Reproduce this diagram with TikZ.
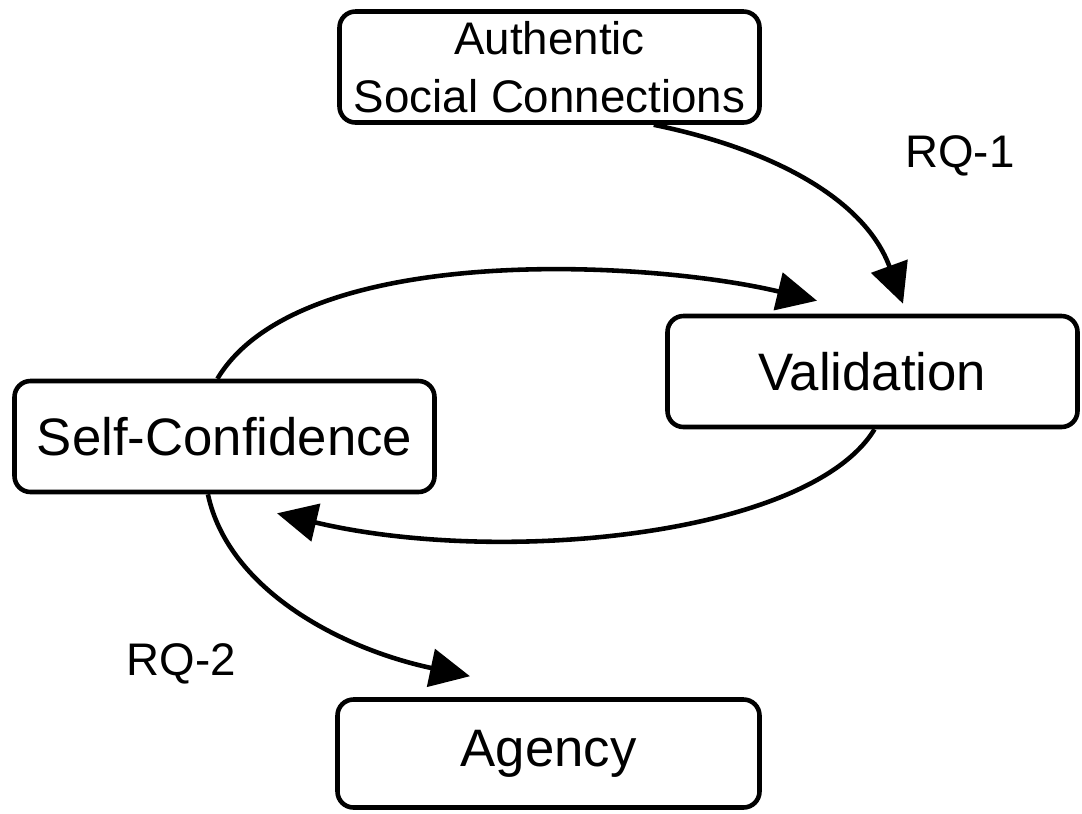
\documentclass[tikz,border=0pt]{standalone}
\usepackage{fontspec}
\setmainfont{Liberation Sans}
\usetikzlibrary{arrows.meta}

\tikzset{
  box/.style={draw, line width=1.3pt, rounded corners=0.16cm,
    minimum width=4.2cm, minimum height=1.11cm, inner sep=0pt,
    align=center, font=\fontsize{15}{18}\selectfont},
  link/.style={line width=1.3pt, -{Triangle[length=0.4cm,width=0.38cm]}},
  rq/.style={anchor=base, font=\fontsize{13}{16}\selectfont}
}

\begin{document}
\begin{tikzpicture}
  \useasboundingbox (0,0) rectangle (10.82,-8.13);

  % boxes
  \node[box, font=\fontsize{13}{16.5}\selectfont] (asc) at (5.495,-0.67) {Authentic\\Social Connections};
  \node[box, minimum width=4.1cm] (val) at (8.725,-3.715) {Validation};
  \node[box] (sc) at (2.245,-4.365) {Self-Confidence};
  \node[box, minimum width=4.22cm, minimum height=1.08cm] (ag) at (5.485,-7.535) {Agency};

  % labels
  \node[rq] (rq1) at (9.60,-1.67) {RQ-1};
  \node[rq] (rq2) at (1.815,-6.75) {RQ-2};

  % arrows
  \draw[link] (asc.-29) .. controls +(-11.6:1.24) and +(110:1.1) .. ([xshift=3.05mm,yshift=1.0mm]val.north);
  \draw[link] (sc.97) .. controls +(59:1.61) and +(166.5:1.72) .. ([xshift=-5.55mm,yshift=1.3mm]val.north);
  \draw[link] (val.-88) .. controls +(238.7:1.25) and +(-13.4:2.29) .. ([xshift=5.25mm,yshift=-1.9mm]sc.south);
  \draw[link] (sc.-106) .. controls +(-78:0.97) and +(168:1.33) .. ([xshift=-7.85mm,yshift=2.1mm]ag.north);
\end{tikzpicture}
\end{document}
